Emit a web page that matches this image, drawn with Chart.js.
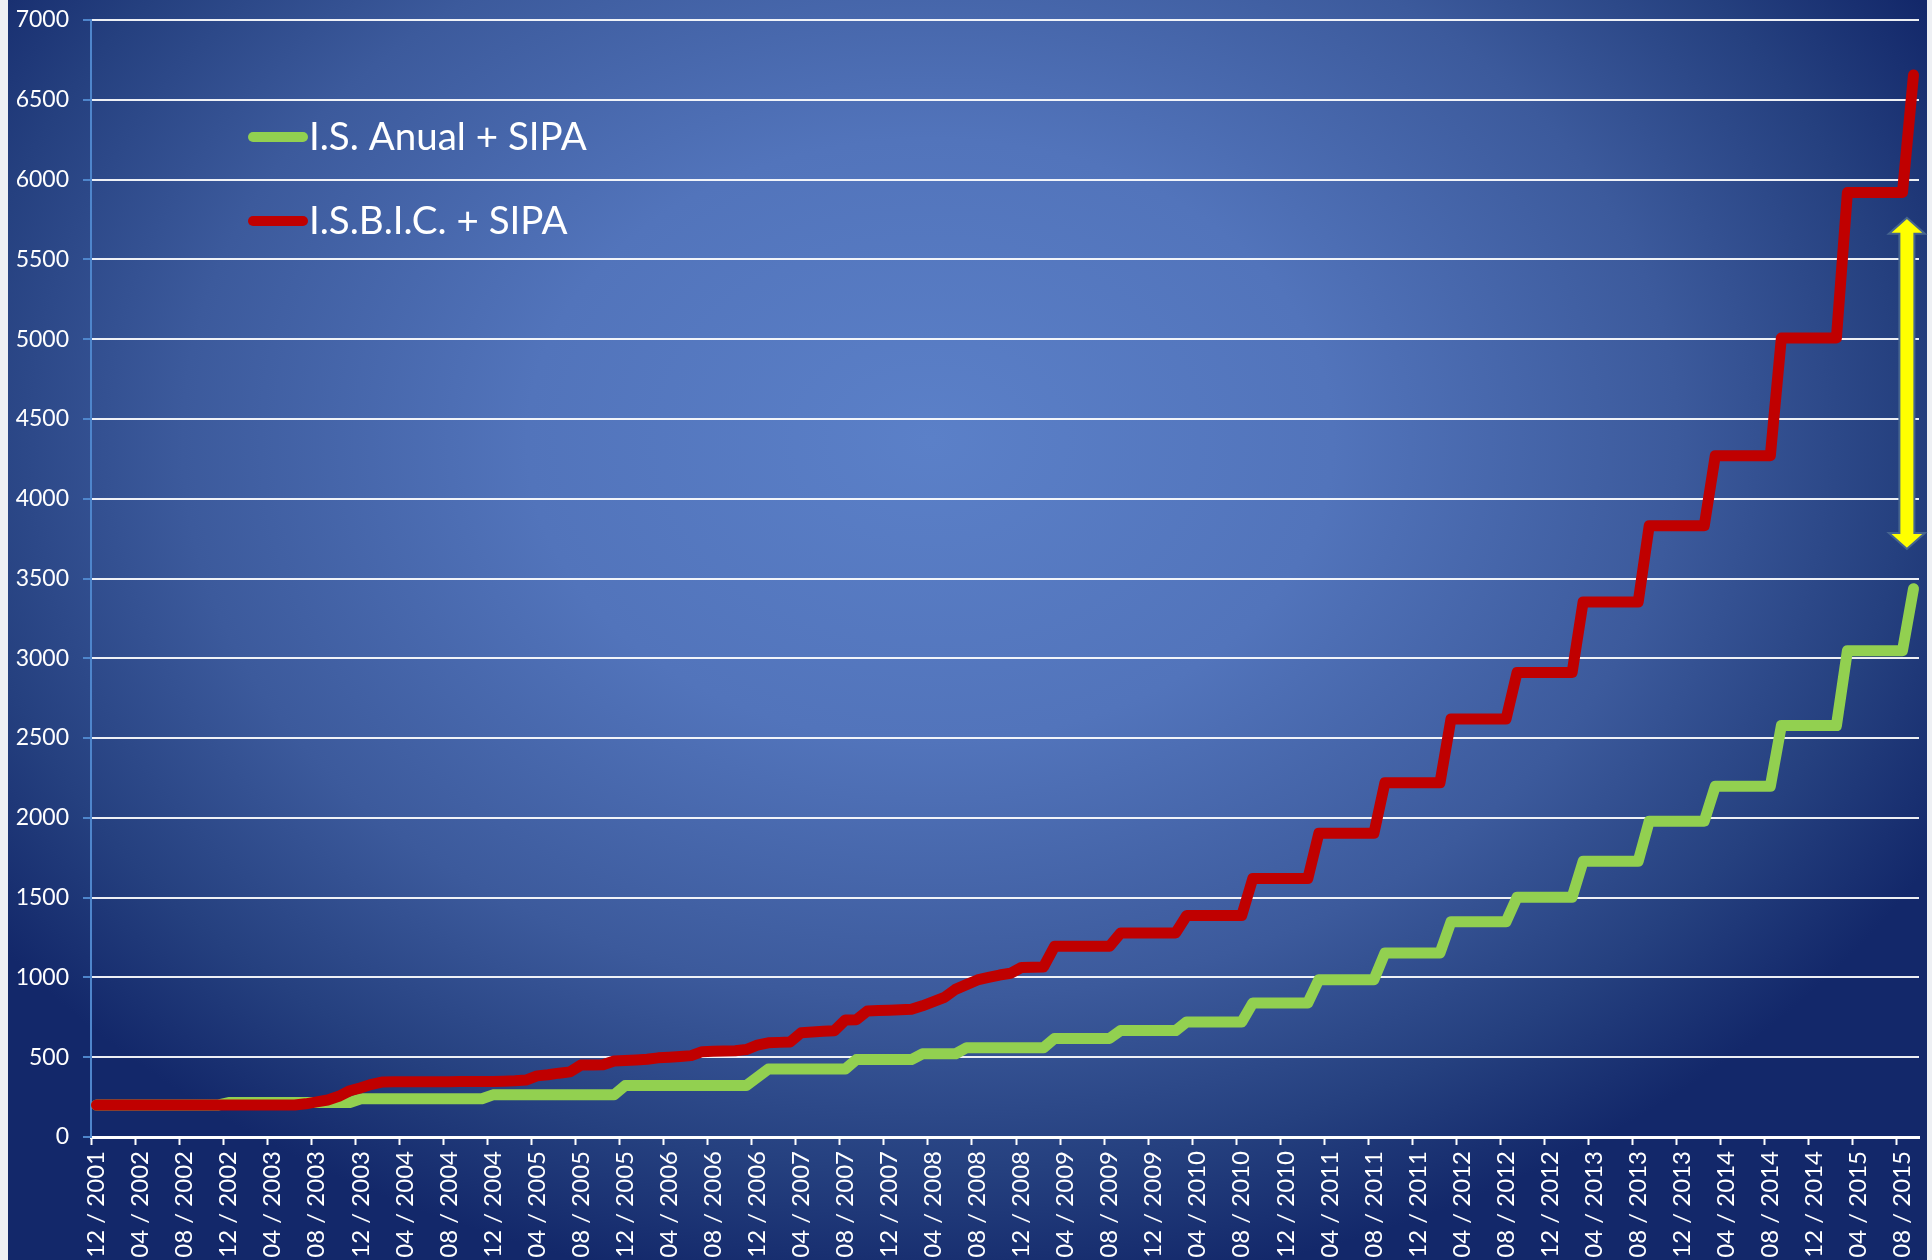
<!DOCTYPE html>
<html><head><meta charset="utf-8">
<script src="https://cdn.jsdelivr.net/npm/chart.js@4.4.1/dist/chart.umd.min.js"></script>
<style>html,body{margin:0;padding:0;background:#fff;overflow:hidden}canvas{display:block}</style>
</head><body>
<canvas id="c" width="1932" height="1260"></canvas>
<script>
// ---- data ----
const startMonth = 12, startYear = 2001, monthCount = 166;
const categories = [];
for (let k = 0; k < monthCount; k++) {
  const m = (startMonth - 1 + k) % 12 + 1;
  const y = startYear + Math.floor((startMonth - 1 + k) / 12);
  categories.push(String(m).padStart(2, '0') + ' / ' + y);
}
const labelEvery = 4;
const yMin = 0, yMax = 7000, yStep = 500;
const seriesNames = ['I.S. Anual + SIPA', 'I.S.B.I.C. + SIPA'];

const isAnual = [
  200,200,200,200,200,200,200,200,200,200,200,200,
  216,216,216,216,216,216,216,216,216,216,216,216,
  240,240,240,240,240,240,240,240,240,240,240,240,
  264,264,264,264,264,264,264,264,264,264,264,264,
  322,322,322,322,322,322,322,322,322,322,322,322,
  374,
  426,426,426,426,426,426,426,426,
  485,485,485,485,485,485,
  521,521,521,521,
  559,559,559,559,559,559,559,559,
  618,618,618,618,618,618,
  667,667,667,667,667,667,
  721,721,721,721,721,721,
  840,840,840,840,840,840,
  986,986,986,986,986,986,
  1153,1153,1153,1153,1153,1153,
  1349,1349,1349,1349,1349,1349,
  1503,1503,1503,1503,1503,1503,
  1728,1728,1728,1728,1728,1728,
  1979,1979,1979,1979,1979,1979,
  2198,2198,2198,2198,2198,2198,
  2578,2578,2578,2578,2578,2578,
  3048,3048,3048,3048,3048,3048,
  3436
];

const isbic = [
  200,200,200,200,200,200,200,200,200,200,200,200,200,200,200,200,200,200,200,
  208,220,232,255,290,308,330,345,
  347,347,347,347,347,347,348,348,348,
  348,350,352,357,383,390,400,408,
  451,451,453,476,480,483,487,496,500,505,
  510,535,537,539,540,548,575,590,593,596,
  654,658,662,666,733,735,790,792,794,797,
  800,822,848,875,925,955,984,1000,1015,1026,
  1063,1064,1066,
  1195,1195,1195,1195,1195,1195,
  1279,1279,1279,1279,1279,1279,
  1388,1388,1388,1388,1388,1388,
  1620,1620,1620,1620,1620,1620,
  1903,1903,1903,1903,1903,1903,
  2220,2220,2220,2220,2220,2220,
  2620,2620,2620,2620,2620,2620,
  2911,2911,2911,2911,2911,2911,
  3353,3353,3353,3353,3353,3353,
  3831,3831,3831,3831,3831,3831,
  4270,4270,4270,4270,4270,4270,
  5007,5007,5007,5007,5007,5007,
  5919,5919,5919,5919,5919,5919,
  6655
];

// gap annotation (double arrow): category index and value span
const gapArrowCategory = 164;
const gapArrowSpan = [3685, 5760];

// ---- styles ----
const GREEN = '#92d050', RED = '#c00000';
const FONT = 'Lato';

const bgPlugin = {
  id: 'bg',
  beforeDraw(chart) {
    const ctx = chart.ctx, W = chart.width, H = chart.height;
    ctx.save();
    ctx.fillStyle = '#eef0f4';
    ctx.fillRect(0, 0, W, H);
    ctx.beginPath();
    ctx.rect(8, 0, 1919, H);
    ctx.clip();
    const cx = 930, cy = 440, rx = 1150, ry = 860;
    ctx.translate(cx, cy);
    ctx.scale(1, ry / rx);
    const g = ctx.createRadialGradient(0, 0, 0, 0, 0, rx);
    g.addColorStop(0, '#5b80c8');
    g.addColorStop(0.35, '#5274bb');
    g.addColorStop(0.65, '#3c5a9c');
    g.addColorStop(0.85, '#25407f');
    g.addColorStop(1, '#13286a');
    ctx.fillStyle = g;
    ctx.fillRect(-3000, -4000, 6000, 8000);
    ctx.restore();
  }
};

const overlayPlugin = {
  id: 'overlay',
  afterDatasetsDraw(chart) {
    const ctx = chart.ctx;
    const xs = chart.scales.x, ys = chart.scales.y;
    // legend
    const items = [
      {name: seriesNames[0], color: GREEN, y: 137},
      {name: seriesNames[1], color: RED, y: 221}
    ];
    ctx.save();
    items.forEach(it => {
      ctx.strokeStyle = it.color;
      ctx.lineWidth = 10;
      ctx.lineCap = 'round';
      ctx.beginPath();
      ctx.moveTo(253, it.y);
      ctx.lineTo(303, it.y);
      ctx.stroke();
      ctx.fillStyle = '#ffffff';
      ctx.font = '38.5px ' + FONT;
      ctx.textBaseline = 'middle';
      ctx.textAlign = 'left';
      ctx.fillText(it.name, 309, it.y + 1);
    });
    // double arrow
    const cw = xs.getPixelForValue(1) - xs.getPixelForValue(0);
    const xc = xs.getPixelForValue(gapArrowCategory) + 0.4 * cw;
    const yb = ys.getPixelForValue(gapArrowSpan[0]);
    const yt = ys.getPixelForValue(gapArrowSpan[1]);
    const hl = 16, hw = 18, sw = 7.5;
    ctx.beginPath();
    ctx.moveTo(xc, yt);
    ctx.lineTo(xc + hw, yt + hl);
    ctx.lineTo(xc + sw, yt + hl);
    ctx.lineTo(xc + sw, yb - hl);
    ctx.lineTo(xc + hw, yb - hl);
    ctx.lineTo(xc, yb);
    ctx.lineTo(xc - hw, yb - hl);
    ctx.lineTo(xc - sw, yb - hl);
    ctx.lineTo(xc - sw, yt + hl);
    ctx.lineTo(xc - hw, yt + hl);
    ctx.closePath();
    ctx.fillStyle = '#ffff00';
    ctx.fill();
    ctx.strokeStyle = '#45648f';
    ctx.lineWidth = 2;
    ctx.lineJoin = 'miter';
    ctx.stroke();
    ctx.restore();
  }
};

new Chart(document.getElementById('c'), {
  type: 'line',
  data: {
    labels: categories,
    datasets: [
      {label: seriesNames[0], data: isAnual, borderColor: GREEN, order: 2},
      {label: seriesNames[1], data: isbic, borderColor: RED, order: 1}
    ]
  },
  options: {
    responsive: false,
    animation: false,
    devicePixelRatio: 1,
    elements: {
      line: {borderWidth: 11, tension: 0, borderJoinStyle: 'round', borderCapStyle: 'round', fill: false},
      point: {radius: 0, hoverRadius: 0}
    },
    layout: {padding: {top: 20, right: 13, left: 0, bottom: 0}},
    plugins: {legend: {display: false}, tooltip: {enabled: false}},
    scales: {
      x: {
        type: 'category',
        offset: true,
        grid: {
          offset: true, drawOnChartArea: false, drawTicks: true, tickLength: 8, tickWidth: 2,
          tickColor: c => (c.index % labelEvery === 0 ? '#ffffff' : 'rgba(0,0,0,0)')
        },
        border: {display: true, color: '#ffffff', width: 3},
        ticks: {
          autoSkip: false, maxRotation: 90, minRotation: 90, color: '#ffffff',
          font: {family: FONT, size: 24}, padding: 6,
          callback: (v, i) => (i % labelEvery === 0 ? categories[i] : '')
        },
        afterFit(s) { s.height = 123; s.paddingLeft = 0; s.paddingRight = 0; }
      },
      y: {
        min: yMin, max: yMax,
        ticks: {stepSize: yStep, color: '#ffffff', font: {family: FONT, size: 23}, padding: 14,
          callback: v => String(v)},
        grid: {color: 'rgba(255,255,255,0.92)', lineWidth: 2, tickColor: '#4f86cc', tickLength: 8, tickWidth: 2},
        border: {color: '#4f86cc', width: 2},
        afterFit(s) { s.width = 91; s.paddingTop = 0; s.paddingBottom = 0; }
      }
    }
  },
  plugins: [bgPlugin, overlayPlugin]
});
</script>
</body></html>
